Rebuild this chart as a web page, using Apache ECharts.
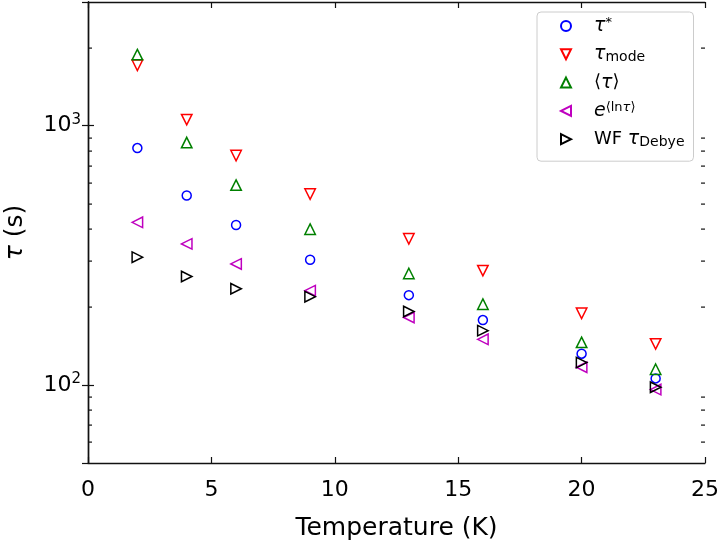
<!DOCTYPE html>
<html><head><meta charset="utf-8">
<script src="https://cdn.jsdelivr.net/npm/echarts@6/dist/echarts.min.js"></script>
<style>html,body{margin:0;padding:0;background:#fff}#c{width:720px;height:540px}</style>
</head><body><div id="c"></div>
<script>
const temperatures = [2, 4, 6, 9, 13, 16, 20, 23];
const tauStar  = [820, 538, 414, 304, 222, 178, 132, 106];
const tauMode  = [1710, 1055, 767, 545, 366, 276, 189, 144];
const tauMean  = [1880, 861, 590, 399, 269, 205, 146, 115];
const tauLog   = [424, 350, 293, 231, 182, 150, 117, 96];
const tauWF    = [311, 262, 235, 219, 192, 162, 122, 98];
const xLimits = [0, 25];
const yLimits = [50, 3000];
const xTicks = [0, 5, 10, 15, 20, 25];
const yMajorTicks = [100, 1000];
const yMinorTicks = [60, 70, 80, 90, 200, 300, 400, 500, 600, 700, 800, 900, 2000];

const FONT = 'DejaVu Sans';
const chart = echarts.init(document.getElementById('c'), null, {renderer: 'canvas'});

function pts(ys) { return temperatures.map((t, i) => [t, ys[i]]); }

const DOWN = 'path://M0,0L10,0L5,10Z';
const UP = 'path://M5,0L10,10L0,10Z';
const LEFT = 'path://M0,5L10,0L10,10Z';
const RIGHT = 'path://M0,0L10,5L0,10Z';

const seriesDefs = [
  {name: 'tauStar', data: tauStar, color: '#0000ff', symbol: 'circle', size: 9},
  {name: 'tauMode', data: tauMode, color: '#ff0000', symbol: DOWN, size: 10.5},
  {name: 'tauMean', data: tauMean, color: '#008000', symbol: UP, size: 10.5},
  {name: 'tauLog', data: tauLog, color: '#bf00bf', symbol: LEFT, size: 10.5},
  {name: 'tauWF', data: tauWF, color: '#000000', symbol: RIGHT, size: 10.5}
];
const legendText = {
  tauStar: '{sp| }{m|τ}{sup|*}',
  tauMode: '{sp| }{m|τ}{sub|mode}',
  tauMean: '{sp| }{t|⟨}{m|τ}{t|⟩}',
  tauLog: '{sp| }{m|e}{sup|⟨ln}{supm|τ}{sup|⟩}',
  tauWF: '{sp| }{t|WF }{m|τ}{sub|Debye}'
};

const axisLineStyle = {color: '#111', width: 1.4};
const tickStyle = {color: '#111', width: 1.2};
const option = {
  animation: false,
  grid: {left: 88, right: 15, top: 2, bottom: 77, containLabel: false, outerBoundsMode: 'none'},
  legend: {
    orient: 'vertical', left: 537, top: 12,
    padding: [4, 9, 12, 23],
    itemWidth: 10, itemHeight: 10, itemGap: 8.3,
    symbolKeepAspect: true,
    borderColor: '#cccccc', borderWidth: 1, borderRadius: 4,
    backgroundColor: 'rgba(255,255,255,0.8)',
    data: seriesDefs.map(s => ({name: s.name, icon: s.symbol})),
    formatter: n => legendText[n],
    textStyle: {
      fontFamily: FONT, fontSize: 18, color: '#000', lineHeight: 20,
      rich: {
        sp: {fontSize: 10, width: 18, lineHeight: 20},
        t: {fontFamily: FONT, fontSize: 18, lineHeight: 20},
        m: {fontFamily: FONT, fontSize: 19, fontStyle: 'italic', lineHeight: 20},
        sup: {fontFamily: FONT, fontSize: 13, lineHeight: 8, verticalAlign: 'top'},
        supm: {fontFamily: FONT, fontSize: 13, fontStyle: 'italic', lineHeight: 8, verticalAlign: 'top'},
        sub: {fontFamily: FONT, fontSize: 14, lineHeight: 8, verticalAlign: 'bottom'}
      }
    }
  },
  xAxis: [{
    type: 'value', min: xLimits[0], max: xLimits[1], interval: 5,
    name: 'Temperature (K)', nameLocation: 'middle', nameGap: 53,
    nameTextStyle: {fontFamily: FONT, fontSize: 25, color: '#000'},
    axisLine: {lineStyle: axisLineStyle},
    axisTick: {inside: true, length: 6, lineStyle: tickStyle},
    axisLabel: {fontFamily: FONT, fontSize: 22, color: '#000', margin: 16,
      formatter: v => xTicks.includes(v) ? String(v) : ''},
    splitLine: {show: false}
  }, {
    type: 'value', min: xLimits[0], max: xLimits[1], interval: 5, position: 'top',
    axisLine: {lineStyle: axisLineStyle},
    axisTick: {inside: true, length: 6, lineStyle: tickStyle},
    axisLabel: {show: false}, splitLine: {show: false}
  }],
  yAxis: [{
    type: 'log', logBase: 10, min: yLimits[0], max: yLimits[1],
    name: '{m|τ} (s)', nameLocation: 'middle', nameGap: 60,
    nameTextStyle: {fontFamily: FONT, fontSize: 25, color: '#000',
      rich: {m: {fontFamily: FONT, fontSize: 25, fontStyle: 'italic', color: '#000'}}},
    axisLine: {lineStyle: axisLineStyle},
    axisTick: {inside: true, length: 6, lineStyle: tickStyle},
    axisLabel: {fontFamily: FONT, fontSize: 22, color: '#000', margin: 7,
      showMinLabel: false, showMaxLabel: false,
      formatter: v => {
        const i = yMajorTicks.findIndex(m => Math.abs(m - v) < 1e-6 * m);
        if (i < 0) return '';
        return '{b|10}{e|' + Math.round(Math.log10(yMajorTicks[i])) + '}';
      },
      rich: {
        b: {fontFamily: FONT, fontSize: 22, color: '#000'},
        e: {fontFamily: FONT, fontSize: 15, color: '#000', padding: [0, 0, 12, 0]}
      }
    },
    splitLine: {show: false}
  }, {
    type: 'log', logBase: 10, min: yLimits[0], max: yLimits[1], position: 'right',
    axisLine: {lineStyle: axisLineStyle},
    axisTick: {inside: true, length: 6, lineStyle: tickStyle},
    axisLabel: {show: false}, splitLine: {show: false}
  }],
  series: seriesDefs.map(s => ({
    name: s.name, type: 'scatter', xAxisIndex: 0, yAxisIndex: 0,
    data: pts(s.data), symbol: s.symbol, symbolSize: s.size, symbolKeepAspect: true,
    itemStyle: {color: 'rgba(255,255,255,0)', borderColor: s.color, borderWidth: 1.5, opacity: 1},
    emphasis: {disabled: true}, z: 3
  })).concat([{
    // minor ticks of the log axis, placed with the axis' own scale
    name: 'minorTicks', type: 'custom', xAxisIndex: 0, yAxisIndex: 0,
    silent: true, clip: false, z: 10,
    data: yMinorTicks.map(v => [xLimits[0], v]),
    renderItem: (params, api) => {
      const v = api.value(1);
      const l = api.coord([xLimits[0], v]);
      const r = api.coord([xLimits[1], v]);
      const y = Math.round(l[1]) - 0.5;
      return {type: 'group', children: [
        {type: 'rect', shape: {x: l[0], y: y, width: 4, height: 1.2}, style: {fill: '#111'}},
        {type: 'rect', shape: {x: r[0] - 4, y: y, width: 4, height: 1.2}, style: {fill: '#111'}}
      ]};
    }
  }])
};
chart.setOption(option);
</script></body></html>
